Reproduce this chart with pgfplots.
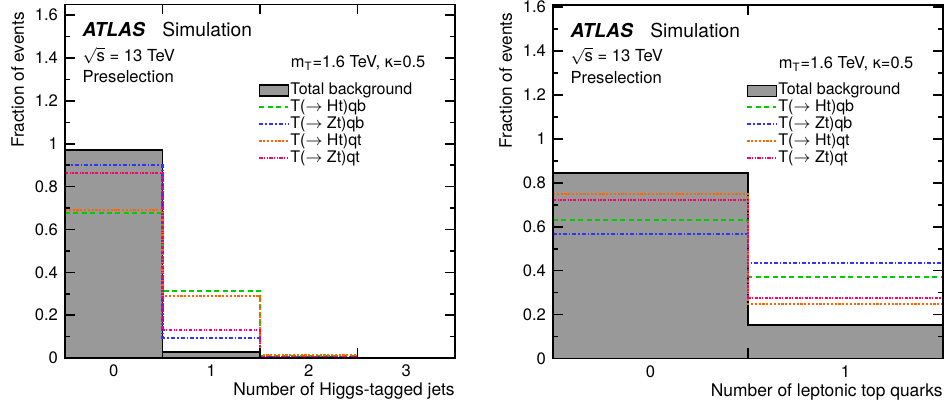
\documentclass[border=0pt]{standalone}
\usepackage{pgfplots}
\pgfplotsset{compat=1.18}
\usepackage{fontspec}
\setmainfont{TeX Gyre Heros}
\definecolor{bggray}{RGB}{153,153,153}
\definecolor{cgreen}{RGB}{0,204,0}
\definecolor{cblue}{RGB}{51,51,255}
\definecolor{corange}{RGB}{255,102,0}
\definecolor{cpink}{RGB}{255,0,102}
\newcommand{\fs}[1]{\fontsize{#1}{#1}\selectfont}
\pgfplotsset{
  atlas/.style={
    scale only axis, width=195pt, height=176.75pt,
    ymin=0, xmin=-0.5,
    axis on top=true,
    axis line style={line width=0.9pt},
    every tick/.style={black, line width=0.8pt},
    major tick length=5pt, minor tick length=2.5pt,
    ytick={0,0.2,0.4,0.6,0.8,1,1.2,1.4,1.6},
    yticklabels={0,0.2,0.4,0.6,0.8,1,1.2,1.4,1.6},
    minor y tick num=1,
    tick label style={font=\fs{8.3}},
    /pgf/number format/assume math mode=true,
    xticklabels={},
    extra x tick style={major tick length=0pt},
    xlabel style={at={(axis description cs:1,-0.07)}, anchor=north east, inner sep=0pt, font=\fs{8.7}},
    ylabel style={at={(axis description cs:-0.104,0.979)}, anchor=south east, inner sep=0pt, font=\fs{8.6}},
    legend style={at={(axis description cs:0.496,0.783)}, anchor=north west, draw=none, fill=none,
      inner sep=0pt, outer sep=0pt, font=\fs{8}, row sep=0pt,
      nodes={inner sep=0.5pt, text height=5.9pt, text depth=1.6pt},
      /tikz/every even column/.append style={column sep=3.5pt}},
    legend cell align=left,
    bgstyle/.style={const plot, fill=bggray, draw=black, line width=0.9pt,
      legend image code/.code={\draw[fill=bggray, draw=black, line width=0.9pt] (0pt,-3.15pt) rectangle (14.5pt,2.35pt);}},
    sigline/.style={const plot, line width=1pt,
      legend image code/.code={\draw[##1] (0pt,0pt) -- (14.5pt,0pt);}},
    sgreen/.style={sigline, color=cgreen, dash pattern=on 2.5pt off 1.7pt},
    sblue/.style={sigline, color=cblue, dash pattern=on 2pt off 1pt on 0.8pt off 1pt},
    sorange/.style={sigline, color=corange, dash pattern=on 1.1pt off 0.8pt},
    spink/.style={sigline, color=cpink, dash pattern=on 1.7pt off 0.7pt on 0.6pt off 0.7pt on 0.6pt off 0.7pt},
  }
}
\newcommand{\atlaslabels}{%
  \node[anchor=base west, inner sep=0pt, font=\fs{9.6}] at (axis description cs:0.044,0.909) {\textbf{\textit{ATLAS}}\hspace{8.6pt}Simulation};
  \node[anchor=base west, inner sep=0pt, font=\fs{8.3}] at (axis description cs:0.044,0.840) {$\sqrt{\mbox{s}}$ = 13 TeV};
  \node[anchor=base west, inner sep=0pt, font=\fs{8.3}] at (axis description cs:0.044,0.779) {Preselection};
  \node[anchor=base east, inner sep=0pt, font=\fs{8.2}] at (axis description cs:0.925,0.821) {m\textsubscript{T}=1.6 TeV, κ=0.5};
}
\begin{document}
\begin{tikzpicture}
\useasboundingbox (0,0) rectangle (473.5pt,206pt);
% Left panel
\begin{axis}[atlas, at={(32.5pt,27pt)}, anchor=south west,
  xmax=3.5, ymax=1.65,
  xtick={0.5,1.5,2.5},
  extra x ticks={0,1,2,3}, extra x tick labels={0,1,2,3},
  xlabel={Number of Higgs-tagged jets}, ylabel={Fraction of events}]
\addplot[bgstyle] coordinates {(-0.5,0.972) (0.5,0.027) (1.5,0.001) (2.5,0.0) (3.5,0.0)} \closedcycle;
\addlegendentry{Total background}
\addplot[sgreen] coordinates {(-0.5,0.676) (0.5,0.314) (1.5,0.008) (2.5,0.0005) (3.5,0.0005)};
\addlegendentry{T($\rightarrow$ Ht)qb}
\addplot[sblue] coordinates {(-0.5,0.900) (0.5,0.095) (1.5,0.004) (2.5,0.0005) (3.5,0.0005)};
\addlegendentry{T($\rightarrow$ Zt)qb}
\addplot[sorange] coordinates {(-0.5,0.690) (0.5,0.289) (1.5,0.016) (2.5,0.001) (3.5,0.001)};
\addlegendentry{T($\rightarrow$ Ht)qt}
\addplot[spink] coordinates {(-0.5,0.862) (0.5,0.133) (1.5,0.004) (2.5,0.0005) (3.5,0.0005)};
\addlegendentry{T($\rightarrow$ Zt)qt}
\atlaslabels
\end{axis}
% Right panel
\begin{axis}[atlas, at={(276.5pt,26.75pt)}, anchor=south west,
  xmax=1.5, ymax=1.61,
  xtick={0.5},
  extra x ticks={0,1}, extra x tick labels={0,1},
  xlabel={Number of leptonic top quarks}, ylabel={Fraction of events}]
\addplot[bgstyle] coordinates {(-0.5,0.846) (0.5,0.154) (1.5,0.154)} \closedcycle;
\addlegendentry{Total background}
\addplot[sgreen] coordinates {(-0.5,0.631) (0.5,0.369) (1.5,0.369)};
\addlegendentry{T($\rightarrow$ Ht)qb}
\addplot[sblue] coordinates {(-0.5,0.566) (0.5,0.434) (1.5,0.434)};
\addlegendentry{T($\rightarrow$ Zt)qb}
\addplot[sorange] coordinates {(-0.5,0.750) (0.5,0.250) (1.5,0.250)};
\addlegendentry{T($\rightarrow$ Ht)qt}
\addplot[spink] coordinates {(-0.5,0.724) (0.5,0.276) (1.5,0.276)};
\addlegendentry{T($\rightarrow$ Zt)qt}
\atlaslabels
\end{axis}
\end{tikzpicture}
\end{document}
